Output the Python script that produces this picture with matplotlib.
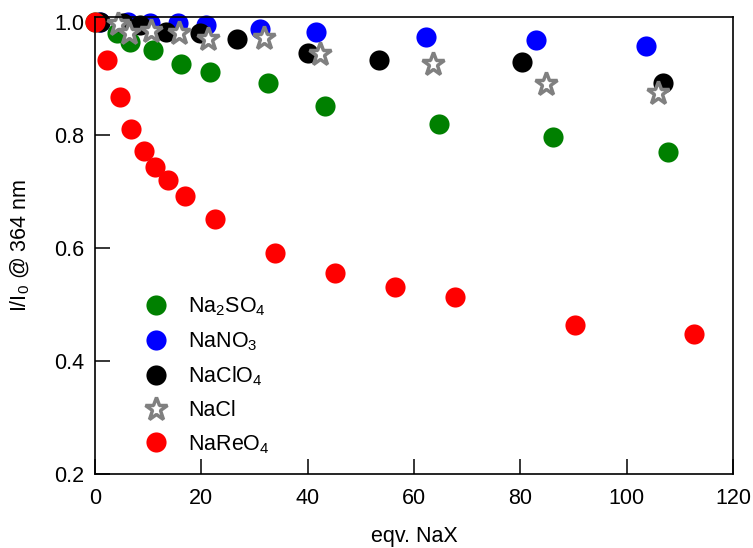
import matplotlib
matplotlib.use("Agg")
import matplotlib.pyplot as plt

plt.rcParams['font.family'] = ['Liberation Sans', 'DejaVu Sans']
plt.rcParams['mathtext.fontset'] = 'custom'
plt.rcParams['mathtext.rm'] = 'Liberation Sans'
plt.rcParams['mathtext.it'] = 'Liberation Sans'

# ---- data ----
na2so4_x = [0, 4.1, 6.6, 10.9, 16.2, 21.6, 32.5, 43.2, 64.7, 86.1, 107.7]
na2so4_y = [1.0, 0.981, 0.965, 0.950, 0.926, 0.912, 0.892, 0.851, 0.819, 0.796, 0.770]

nano3_x = [1.0, 6.2, 10.3, 15.6, 20.9, 31.0, 41.5, 62.2, 82.9, 103.6]
nano3_y = [1.0, 1.0, 0.999, 0.998, 0.994, 0.988, 0.983, 0.973, 0.968, 0.957]

naclo4_x = [1.0, 5.3, 8.5, 13.3, 19.7, 26.7, 40.0, 53.4, 80.3, 106.8]
naclo4_y = [1.0, 0.998, 0.994, 0.982, 0.981, 0.970, 0.945, 0.933, 0.929, 0.892]

nacl_x = [4.3, 6.4, 10.5, 15.8, 21.2, 31.8, 42.3, 63.5, 84.8, 105.8]
nacl_y = [0.996, 0.980, 0.984, 0.980, 0.970, 0.972, 0.944, 0.926, 0.891, 0.874]

nareo4_x = [0, 2.3, 4.7, 6.8, 9.2, 11.3, 13.7, 16.9, 22.6, 33.8, 45.1, 56.4, 67.7, 90.2, 112.6]
nareo4_y = [1.0, 0.933, 0.867, 0.811, 0.772, 0.743, 0.720, 0.692, 0.651, 0.591,
            0.556, 0.531, 0.513, 0.464, 0.448]

labels = ['Na$_2$SO$_4$', 'NaNO$_3$', 'NaClO$_4$', 'NaCl', 'NaReO$_4$']
x_ticks = [0, 20, 40, 60, 80, 100, 120]
y_ticks = [0.2, 0.4, 0.6, 0.8, 1.0]

fig = plt.figure(figsize=(7.53, 5.48), dpi=100)
ax = fig.add_axes([95/753, 74/548, 638/753, 457/548])

ms = 14.5
ax.plot(na2so4_x, na2so4_y, 'o', color='#008000', ms=ms, mec='none', clip_on=False, label=labels[0])
ax.plot(nano3_x, nano3_y, 'o', color='#0000FF', ms=ms, mec='none', clip_on=False, label=labels[1])
ax.plot(naclo4_x, naclo4_y, 'o', color='#000000', ms=ms, mec='none', clip_on=False, label=labels[2])
ax.plot(nacl_x, nacl_y, '*', mfc='white', mec='#808080', mew=2.5, ms=17, clip_on=False, label=labels[3])
ax.plot(nareo4_x, nareo4_y, 'o', color='#FF0000', ms=ms, mec='none', clip_on=False, label=labels[4])

ax.set_xlim(0, 120)
ax.set_ylim(0.2, 1.009)
ax.set_xticks(x_ticks)
ax.set_yticks(y_ticks)
ax.set_xticklabels([str(v) for v in x_ticks])
ax.set_yticklabels(['%.1f' % v for v in y_ticks])
ax.tick_params(direction='in', length=11, width=1.1, labelsize=15.5)
ax.tick_params(axis='x', pad=10)
ax.tick_params(axis='y', pad=8)
for sp in ax.spines.values():
    sp.set_linewidth(1.2)

ax.set_xlabel('eqv. NaX', fontsize=15.5, labelpad=12)
ax.set_ylabel('I/I$_0$ @ 364 nm', fontsize=15.5, labelpad=16)

ax.legend(loc='upper left', bbox_to_anchor=(0.062, 0.39), frameon=False, fontsize=15.5,
          borderaxespad=0, borderpad=0, labelspacing=0.55, handlelength=2.0,
          handletextpad=0.49, numpoints=1)

fig.savefig('out.png', dpi=100)
